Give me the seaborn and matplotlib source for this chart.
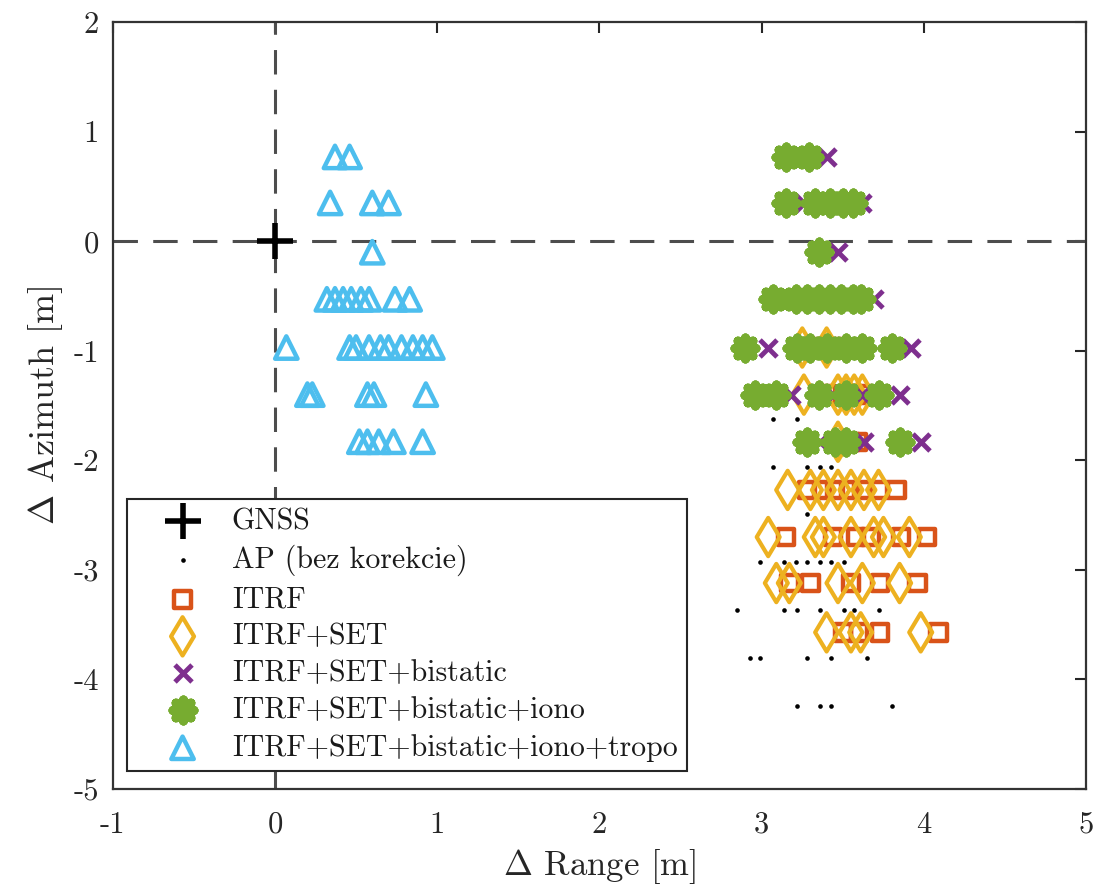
import numpy as np
import pandas as pd
import matplotlib
matplotlib.use("Agg")
import matplotlib.pyplot as plt
import seaborn as sns

# ---------------- data ----------------
gnss_x = [0.0]
gnss_y = [0.0]

ap_x = [3.07, 3.22,
        3.07, 3.28, 3.36, 3.43,
        3.28,
        2.99, 3.14, 3.21, 3.28, 3.36, 3.43, 3.51,
        2.85, 3.14, 3.22, 3.36, 3.51, 3.57, 3.72,
        2.93, 2.99, 3.28, 3.43, 3.65,
        3.22, 3.36, 3.43, 3.80]
ap_y = [-1.62, -1.62,
        -2.06, -2.06, -2.06, -2.06,
        -2.49,
        -2.93, -2.93, -2.93, -2.93, -2.93, -2.93, -2.93,
        -3.37, -3.37, -3.37, -3.37, -3.37, -3.37, -3.37,
        -3.80, -3.80, -3.80, -3.80, -3.80,
        -4.24, -4.24, -4.24, -4.24]

itrf_x = [3.30, 3.45,
          3.40, 3.55, 3.62,
          3.55, 3.59,
          3.28, 3.37, 3.45, 3.54, 3.62, 3.72, 3.83,
          3.15, 3.44, 3.58, 3.67, 3.86, 4.02,
          3.17, 3.30, 3.55, 3.73, 3.96,
          3.50, 3.60, 3.73, 4.09]
itrf_y = [-0.97, -0.97,
          -1.40, -1.40, -1.40,
          -1.83, -1.83,
          -2.27, -2.27, -2.27, -2.27, -2.27, -2.27, -2.27,
          -2.70, -2.70, -2.70, -2.70, -2.70, -2.70,
          -3.12, -3.12, -3.12, -3.12, -3.12,
          -3.57, -3.57, -3.57, -3.57]

set_x = [3.25, 3.40,
         3.26, 3.47, 3.52, 3.57, 3.62,
         3.47,
         3.16, 3.30, 3.38, 3.47, 3.55, 3.63, 3.72,
         3.04, 3.33, 3.38, 3.55, 3.69, 3.75, 3.91,
         3.09, 3.17, 3.47, 3.62, 3.85,
         3.40, 3.55, 3.61, 3.98]
set_y = [-0.97, -0.97,
         -1.40, -1.40, -1.40, -1.40, -1.40,
         -1.83,
         -2.27, -2.27, -2.27, -2.27, -2.27, -2.27, -2.27,
         -2.70, -2.70, -2.70, -2.70, -2.70, -2.70, -2.70,
         -3.12, -3.12, -3.12, -3.12, -3.12,
         -3.57, -3.57, -3.57, -3.57]

bist_x = [3.23, 3.40,
          3.26, 3.62,
          3.47,
          3.13, 3.25, 3.38, 3.52, 3.69,
          3.04, 3.33, 3.47, 3.60, 3.92,
          3.18, 3.44, 3.62, 3.85,
          3.36, 3.63, 3.98]
bist_y = [0.77, 0.77,
          0.35, 0.35,
          -0.10,
          -0.53, -0.53, -0.53, -0.53, -0.53,
          -0.97, -0.97, -0.97, -0.97, -0.97,
          -1.40, -1.40, -1.40, -1.40,
          -1.83, -1.83, -1.83]

iono_x = [3.15, 3.29,
          3.15, 3.33, 3.42, 3.50, 3.56,
          3.35,
          3.07, 3.21, 3.28, 3.35, 3.42, 3.49, 3.56, 3.61,
          2.90, 3.22, 3.30, 3.40, 3.52, 3.62, 3.80,
          2.96, 3.09, 3.35, 3.52, 3.72,
          3.28, 3.45, 3.52, 3.85]
iono_y = [0.77, 0.77,
          0.35, 0.35, 0.35, 0.35, 0.35,
          -0.10,
          -0.53, -0.53, -0.53, -0.53, -0.53, -0.53, -0.53, -0.53,
          -0.97, -0.97, -0.97, -0.97, -0.97, -0.97, -0.97,
          -1.40, -1.40, -1.40, -1.40, -1.40,
          -1.83, -1.83, -1.83, -1.83]

tropo_x = [0.37, 0.46,
           0.34, 0.60, 0.70,
           0.60,
           0.32, 0.37, 0.42, 0.47, 0.53, 0.58, 0.74, 0.83,
           0.07, 0.46, 0.50, 0.58, 0.65, 0.70, 0.78, 0.85, 0.91, 0.97,
           0.20, 0.23, 0.57, 0.61, 0.93,
           0.52, 0.57, 0.64, 0.73, 0.91]
tropo_y = [0.77, 0.77,
           0.35, 0.35, 0.35,
           -0.10,
           -0.53, -0.53, -0.53, -0.53, -0.53, -0.53, -0.53, -0.53,
           -0.97, -0.97, -0.97, -0.97, -0.97, -0.97, -0.97, -0.97, -0.97, -0.97,
           -1.40, -1.40, -1.40, -1.40, -1.40,
           -1.83, -1.83, -1.83, -1.83, -1.83]

labels = ["GNSS", "AP (bez korekcie)", "ITRF", "ITRF+SET",
          "ITRF+SET+bistatic", "ITRF+SET+bistatic+iono",
          "ITRF+SET+bistatic+iono+tropo"]

x_ticks = [-1, 0, 1, 2, 3, 4, 5]
y_ticks = [-5, -4, -3, -2, -1, 0, 1, 2]

# ---------------- style ----------------
sns.set_style("white")
plt.rcParams["font.family"] = ["cmr10", "DejaVu Serif"]
plt.rcParams["mathtext.fontset"] = "cm"
plt.rcParams["axes.unicode_minus"] = False
plt.rcParams["axes.formatter.use_mathtext"] = False

fig = plt.figure(figsize=(11.05, 8.88), dpi=100)
ax = fig.add_axes([0.102, 0.1115, 0.881, 0.8635])

dash_col = "0.3"
ax.axhline(0, color=dash_col, lw=2.2, dashes=(8, 5), zorder=1)
ax.axvline(0, color=dash_col, lw=2.2, dashes=(8, 5), zorder=1)

sns.scatterplot(x=gnss_x, y=gnss_y, marker="+", s=700, color="black",
                linewidth=4, label=labels[0], ax=ax, zorder=3)
sns.scatterplot(x=ap_x, y=ap_y, marker="o", s=11, color="black",
                edgecolor="black", linewidth=0, label=labels[1], ax=ax, zorder=3)
sns.scatterplot(x=itrf_x, y=itrf_y, marker="s", s=140, facecolors="none",
                edgecolor="#D95319", linewidth=3.2, label=labels[2], ax=ax, zorder=3)
sns.scatterplot(x=set_x, y=set_y, marker="d", s=380, facecolors="none",
                edgecolor="#EDB120", linewidth=3.0, label=labels[3], ax=ax, zorder=3)
sns.scatterplot(x=bist_x, y=bist_y, marker="x", s=150, color="#7E2F8E",
                linewidth=3.5, label=labels[4], ax=ax, zorder=3)
sns.scatterplot(x=iono_x, y=iono_y, marker=(8, 2, 0), s=230, color="#77AC30",
                linewidth=6.5, label=labels[5], ax=ax, zorder=3)
sns.scatterplot(x=tropo_x, y=tropo_y, marker="^", s=260, facecolors="none",
                edgecolor="#4DBEEE", linewidth=3.2, label=labels[6], ax=ax, zorder=3)

ax.set_xlim(-1, 5)
ax.set_ylim(-5, 2)
ax.set_xticks(x_ticks)
ax.set_yticks(y_ticks)
ax.set_xticklabels([str(v) for v in x_ticks])
ax.set_yticklabels([str(v) for v in y_ticks])
ax.tick_params(direction="in", length=8, width=1.5, top=True, right=True,
               labelsize=22, colors="0.15", pad=10)
ax.tick_params(axis="x", pad=16)
for sp in ax.spines.values():
    sp.set_color("0.2")
    sp.set_linewidth(1.6)

ax.set_xlabel(r"$\Delta$ Range [m]", fontsize=25, color="0.15", labelpad=6)
ax.set_ylabel(r"$\Delta$ Azimuth [m]", fontsize=26, color="0.15", labelpad=6)

leg = ax.legend(loc="lower left", bbox_to_anchor=(0.015, 0.024),
                borderaxespad=0, fontsize=21.5, frameon=True, fancybox=False,
                edgecolor="0.15", framealpha=1, labelspacing=0.32,
                handletextpad=0.1, borderpad=0.3, handlelength=3.1)
leg.get_frame().set_linewidth(1.5)
for t in leg.get_texts():
    t.set_color("0.1")

fig.savefig("out.png", dpi=100)
